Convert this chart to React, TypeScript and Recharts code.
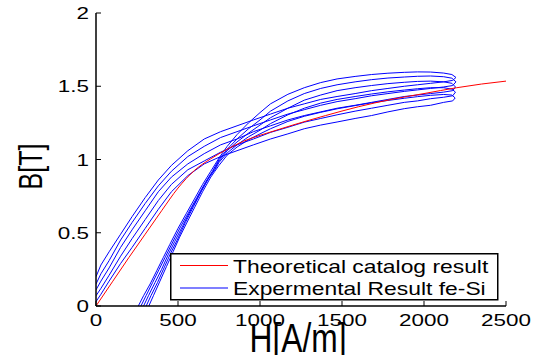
import { LineChart, Line, XAxis, YAxis, Legend } from 'recharts';

const hTicks = [0, 500, 1000, 1500, 2000, 2500];
const bTicks = [0, 0.5, 1, 1.5, 2];

// theoretical catalog B-H curve
const catalogH = [0, 100, 200, 300, 400, 500, 600, 700, 800, 900, 1000, 1100, 1200, 1400, 1600, 1800, 2000, 2200, 2350, 2500];
const catalogB = [0, 0.165, 0.33, 0.49, 0.65, 0.805, 0.925, 1.005, 1.07, 1.125, 1.165, 1.2, 1.235, 1.3, 1.36, 1.41, 1.45, 1.49, 1.515, 1.535];

// measured loops: rising branch (low part differs per loop), shared grid for the rest
const riseLowH = [
  [258, 290, 330, 370, 410, 450, 500, 550, 600, 650, 700],
  [274, 305, 345, 385, 425, 465, 515, 565, 615, 665, 710],
  [290, 320, 360, 400, 440, 480, 530, 580, 630, 680, 720],
  [306, 335, 375, 415, 455, 495, 545, 595, 645, 690, 725],
  [322, 350, 390, 430, 470, 510, 550, 600, 650, 700, 725],
];
const riseLowB = [
  [0, 0.07, 0.15, 0.24, 0.33, 0.42, 0.53, 0.63, 0.73, 0.83, 0.92],
  [0, 0.07, 0.16, 0.25, 0.34, 0.43, 0.54, 0.64, 0.74, 0.84, 0.92],
  [0, 0.07, 0.16, 0.25, 0.35, 0.44, 0.55, 0.66, 0.76, 0.86, 0.93],
  [0, 0.07, 0.16, 0.26, 0.36, 0.45, 0.57, 0.68, 0.79, 0.88, 0.93],
  [0, 0.07, 0.17, 0.27, 0.37, 0.47, 0.56, 0.67, 0.78, 0.88, 0.92],
];

const riseH = [750, 800, 860, 930, 1000, 1064, 1170, 1270, 1370, 1470, 1580, 1680, 1780, 1880, 1960, 2040, 2120, 2170];
const riseB = [
  [1.01, 1.09, 1.17, 1.25, 1.32, 1.38, 1.445, 1.49, 1.525, 1.55, 1.567, 1.58, 1.589, 1.595, 1.598, 1.597, 1.59, 1.58],
  [1.0, 1.07, 1.14, 1.21, 1.27, 1.33, 1.4, 1.45, 1.485, 1.51, 1.53, 1.545, 1.556, 1.563, 1.568, 1.57, 1.565, 1.555],
  [0.99, 1.06, 1.12, 1.18, 1.235, 1.285, 1.35, 1.405, 1.44, 1.47, 1.49, 1.505, 1.518, 1.527, 1.533, 1.535, 1.53, 1.52],
  [0.98, 1.045, 1.1, 1.155, 1.2, 1.245, 1.305, 1.35, 1.385, 1.41, 1.43, 1.447, 1.462, 1.474, 1.483, 1.49, 1.49, 1.48],
  [0.96, 1.03, 1.085, 1.135, 1.175, 1.21, 1.26, 1.295, 1.322, 1.346, 1.368, 1.387, 1.403, 1.418, 1.429, 1.438, 1.444, 1.44],
];

const tipH = [2195, 2195, 2192, 2192, 2190];
const tipB = [1.56, 1.53, 1.495, 1.46, 1.42];

const fallH = [2175, 2120, 2040, 1960, 1880, 1780, 1680, 1580, 1470, 1370, 1270, 1170, 1064, 960, 860, 760, 660, 560, 460, 380, 300, 220, 150, 80, 30, 0];
const fallB = [
  [1.54, 1.53, 1.52, 1.51, 1.5, 1.485, 1.47, 1.45, 1.43, 1.41, 1.38, 1.35, 1.31, 1.27, 1.23, 1.19, 1.14, 1.06, 0.96, 0.86, 0.74, 0.61, 0.49, 0.37, 0.28, 0.2],
  [1.505, 1.495, 1.485, 1.475, 1.465, 1.45, 1.435, 1.415, 1.395, 1.37, 1.34, 1.31, 1.27, 1.23, 1.19, 1.15, 1.09, 1.02, 0.92, 0.82, 0.7, 0.57, 0.45, 0.31, 0.22, 0.15],
  [1.47, 1.46, 1.45, 1.44, 1.43, 1.41, 1.39, 1.37, 1.35, 1.325, 1.3, 1.27, 1.23, 1.19, 1.14, 1.1, 1.04, 0.97, 0.88, 0.78, 0.65, 0.52, 0.4, 0.26, 0.17, 0.11],
  [1.435, 1.425, 1.415, 1.4, 1.39, 1.37, 1.35, 1.33, 1.305, 1.28, 1.255, 1.22, 1.185, 1.14, 1.1, 1.05, 0.99, 0.93, 0.83, 0.72, 0.59, 0.46, 0.34, 0.21, 0.12, 0.07],
  [1.4, 1.39, 1.37, 1.36, 1.347, 1.325, 1.3, 1.28, 1.256, 1.235, 1.21, 1.175, 1.14, 1.1, 1.06, 1.02, 0.97, 0.89, 0.78, 0.66, 0.53, 0.4, 0.29, 0.17, 0.08, 0.03],
];

const CATALOG_NAME = 'Theoretical catalog result';
const MEASURED_NAME = 'Expermental Result fe-Si';
const RED = '#ff0000';
const BLUE = '#0000ff';

const FONT = '"Liberation Sans", Arial, Helvetica, sans-serif';
const STRETCH = 1.32;

const catalogData = catalogH.map((h, i) => ({ h, b: catalogB[i] }));

const loops = riseLowH.map((lowH, k) => [
  ...lowH.map((h, i) => ({ h, b: riseLowB[k][i] })),
  ...riseH.map((h, i) => ({ h, b: riseB[k][i] })),
  { h: tipH[k], b: tipB[k] },
  ...fallH.map((h, i) => ({ h, b: fallB[k][i] })),
]);

function BottomTick({ x, y, payload }: any) {
  return (
    <g>
      <line x1={x} x2={x} y1={y} y2={y - 5} stroke="#000" />
      <text
        transform={`translate(${x},${y + 20}) scale(${STRETCH},1)`}
        textAnchor="middle"
        fontSize={17}
        fontFamily={FONT}
        fill="#000"
      >
        {payload.value}
      </text>
    </g>
  );
}

function TopTick({ x, y }: any) {
  return <line x1={x} x2={x} y1={y} y2={y + 5} stroke="#000" />;
}

function LeftTick({ x, y, payload }: any) {
  return (
    <g>
      <line x1={x} x2={x + 5} y1={y} y2={y} stroke="#000" />
      <text
        transform={`translate(${x - 7},${y + 6}) scale(${STRETCH},1)`}
        textAnchor="end"
        fontSize={17}
        fontFamily={FONT}
        fill="#000"
      >
        {payload.value}
      </text>
    </g>
  );
}

function RightTick({ x, y }: any) {
  return <line x1={x} x2={x - 5} y1={y} y2={y} stroke="#000" />;
}

const renderXLabel = ({ viewBox }: any) => (
  <text
    transform={`translate(${viewBox.x + viewBox.width / 2 - 3},${viewBox.y + 46}) scale(1.27,1.6)`}
    textAnchor="middle"
    fontSize={25}
    fontFamily={FONT}
    fill="#000"
  >
    H[A/m]
  </text>
);

const renderYLabel = ({ viewBox }: any) => (
  <text
    transform={`translate(42,${viewBox.y + viewBox.height / 2 + 7}) scale(1.35,1) rotate(-90)`}
    textAnchor="middle"
    fontSize={25}
    fontFamily={FONT}
    fill="#000"
  >
    B[T]
  </text>
);

const legendRows = [
  { name: CATALOG_NAME, color: RED },
  { name: MEASURED_NAME, color: BLUE },
];

const renderLegend = () => (
  <svg width={330} height={48} style={{ display: 'block' }}>
    <rect x={0.75} y={0.75} width={327} height={46} fill="#fff" stroke="#000" strokeWidth={1.5} />
    {legendRows.map((row, i) => (
      <g key={row.name}>
        <line x1={10} x2={58} y1={12.5 + i * 22.5} y2={12.5 + i * 22.5} stroke={row.color} strokeWidth={1.2} />
        <text
          transform={`translate(63,${19.5 + i * 22}) scale(1.27,1)`}
          fontSize={18}
          fontFamily={FONT}
          fill="#000"
        >
          {row.name}
        </text>
      </g>
    ))}
  </svg>
);

export default function App() {
  return (
    <div style={{ position: 'absolute', left: 0, top: 0, width: 539, height: 355, background: '#fff', overflow: 'hidden' }}>
      <LineChart width={539} height={355} margin={{ top: 13, right: 33, left: 0, bottom: 0 }}>
        <XAxis
          dataKey="h"
          type="number"
          domain={[0, 2500]}
          ticks={hTicks}
          height={49}
          tickSize={0}
          tickMargin={0}
          tick={<BottomTick />}
          axisLine={{ stroke: '#000', strokeWidth: 1.5 }}
          label={{ content: renderXLabel }}
          allowDataOverflow
        />
        <XAxis
          xAxisId="top"
          orientation="top"
          type="number"
          domain={[0, 2500]}
          ticks={hTicks}
          height={0}
          tickSize={0}
          tickMargin={0}
          tick={<TopTick />}
          axisLine={{ stroke: '#000', strokeWidth: 1.5 }}
        />
        <YAxis
          type="number"
          domain={[0, 2]}
          ticks={bTicks}
          width={96}
          tickSize={0}
          tickMargin={0}
          tick={<LeftTick />}
          axisLine={{ stroke: '#000', strokeWidth: 1.5 }}
          label={{ content: renderYLabel }}
          allowDataOverflow
        />
        <YAxis
          yAxisId="right"
          orientation="right"
          type="number"
          domain={[0, 2]}
          ticks={bTicks}
          width={0}
          tickSize={0}
          tickMargin={0}
          tick={<RightTick />}
          axisLine={{ stroke: '#000', strokeWidth: 1.5 }}
        />
        {loops.map((loop, k) => (
          <Line
            key={k}
            data={loop}
            dataKey="b"
            name={MEASURED_NAME}
            type="linear"
            stroke={BLUE}
            strokeWidth={1}
            dot={false}
            activeDot={false}
            legendType={k === 0 ? 'line' : 'none'}
            isAnimationActive={false}
          />
        ))}
        <Line
          data={catalogData}
          dataKey="b"
          name={CATALOG_NAME}
          type="monotone"
          stroke={RED}
          strokeWidth={1}
          dot={false}
          activeDot={false}
          isAnimationActive={false}
        />
        <Legend
          layout="horizontal"
          verticalAlign="middle"
          align="center"
          wrapperStyle={{ left: 170, top: 253, width: 330, height: 48 }}
          content={renderLegend}
        />
      </LineChart>
    </div>
  );
}
